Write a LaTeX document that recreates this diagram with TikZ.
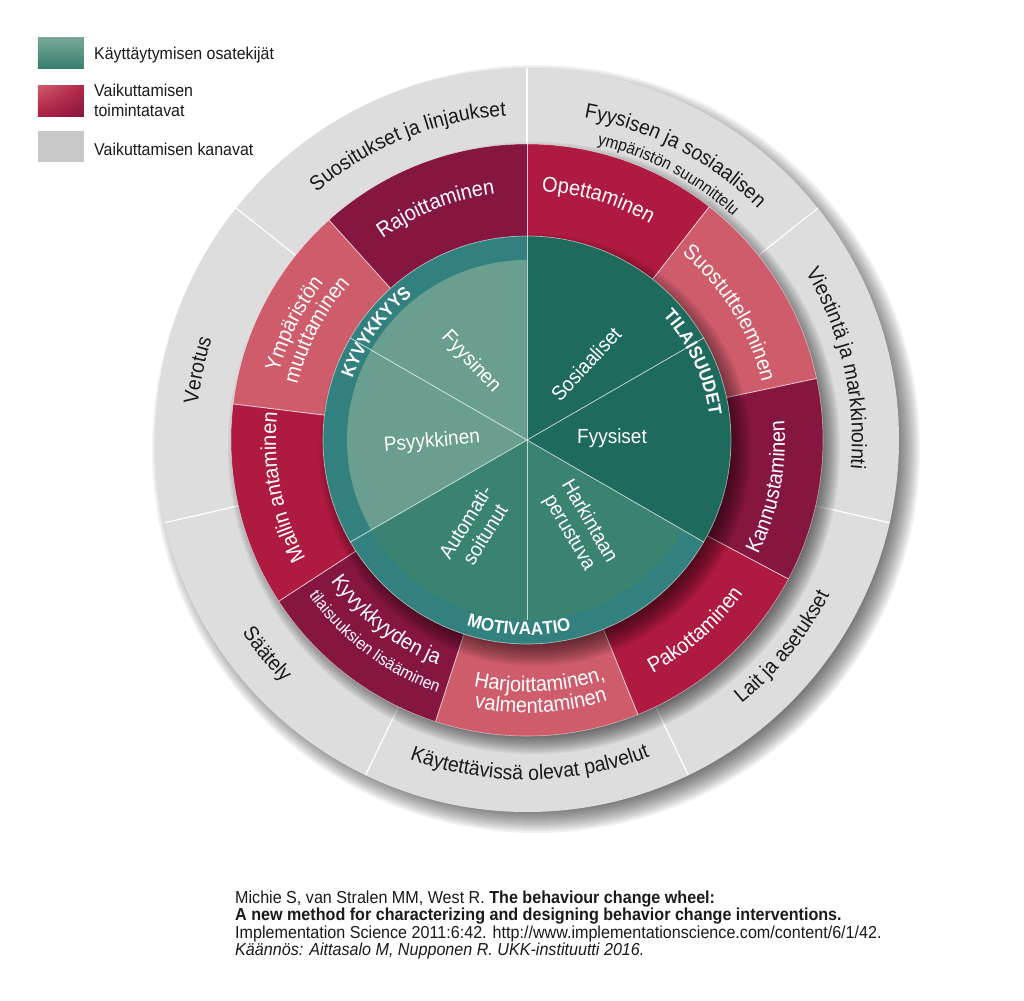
\documentclass[tikz,border=0pt]{standalone}
\usepackage{fontspec}
\setmainfont[FakeStretch=0.93]{Liberation Sans}
\usetikzlibrary{decorations.text,shadings}

\definecolor{ringgrey}{HTML}{DDDDDD}
\definecolor{crimsonr}{HTML}{AF1A40}
\definecolor{maroonr}{HTML}{85163F}
\definecolor{pinkr}{HTML}{CE5C6B}
\definecolor{lightg}{HTML}{6A9E8E}
\definecolor{midg}{HTML}{3B8371}
\definecolor{darkg}{HTML}{1E6A5C}
\definecolor{ringteal}{HTML}{32817E}
\definecolor{inkc}{HTML}{1A1A1A}

\newcommand\ringseg[5]{%
  \fill[#1] (#2:#4) arc[start angle=#2, end angle=#3, radius=#4] -- (#3:#5) arc[start angle=#3, end angle=#2, radius=#5] -- cycle;}
\newcommand\cwtext[5]{%
  \path[decorate, decoration={text along path, text align=center, text={|#4|#5}}]
    ({#1+#3}:#2) arc[start angle={#1+#3}, end angle={#1-#3}, radius=#2];}
\newcommand\ccwtext[5]{%
  \path[decorate, decoration={text along path, text align=center, text={|#4|#5}}]
    ({#1-#3}:#2) arc[start angle={#1-#3}, end angle={#1+#3}, radius=#2];}
\newcommand\softshadow[4]{%
  \foreach \k in {0,...,11}{\fill[black,opacity=0.055] (#1,#2) circle[radius={#3+#4-\k*#4/6}];}}

\newcommand\fgrey{\fontsize{21}{22}\selectfont\color{inkc}}
\newcommand\fgreys{\fontsize{16.8}{18}\selectfont\color{inkc}}
\newcommand\fred{\fontsize{21.5}{22}\selectfont\color{white}}
\newcommand\freds{\fontsize{16.8}{18}\selectfont\color{white}}
\newcommand\fring{\fontsize{18.3}{19}\selectfont\bfseries\color{white}}

\begin{document}
\begin{tikzpicture}[x=1bp,y=1bp,
  gtext/.style={text=white, font=\fontsize{20.5}{23}\selectfont, align=center, inner sep=0pt},
  legtext/.style={anchor=base west, font=\fontsize{17.2}{19}\selectfont, text=inkc, inner sep=0pt},
  citetext/.style={anchor=base west, font=\fontsize{17.4}{19}\selectfont, text=inkc, inner sep=0pt},
  greysep/.style={white, line width=1.2bp},
  redsep/.style={white, opacity=0.75, line width=0.8bp},
  greensep/.style={white, opacity=0.7, line width=0.8bp}]
\useasboundingbox (-527,-561) rectangle (497,440);
\fill[white] (-527,-561) rectangle (497,440);
\coordinate (c) at (0,0);

% legend
\shade[top color=lightg!90!white, bottom color=midg!80!darkg] (-489,402) rectangle (-443,371);
\shade[upper left=pinkr, upper right=crimsonr!85!pinkr, lower left=crimsonr, lower right=maroonr] (-489,354) rectangle (-443,323);
\fill[black!22] (-489,309) rectangle (-443,278);
\node[legtext] (l1) at (-433,380) {Käyttäytymisen osatekijät};
\node[legtext] (l2a) at (-433,343) {Vaikuttamisen};
\node[legtext] (l2b) at (-433,323) {toimintatavat};
\node[legtext] (l3) at (-433,284) {Vaikuttamisen kanavat};

% outer grey ring
\softshadow{9}{-9}{372}{12}
\fill[ringgrey] (c) circle[radius=372];
\foreach \a in {90,38.571,-12.857,-64.286,-115.714,-167.143,141.429}{\draw[greysep] (\a:296) -- (\a:372);}

% red ring
\softshadow{7}{-8}{296}{10}
\ringseg{crimsonr}{52}{90}{204}{296}
\ringseg{pinkr}{12}{52}{204}{296}
\ringseg{maroonr}{-28}{12}{204}{296}
\ringseg{crimsonr}{-68}{-28}{204}{296}
\ringseg{pinkr}{-108}{-68}{204}{296}
\ringseg{maroonr}{-147}{-108}{204}{296}
\ringseg{crimsonr}{-187}{-147}{204}{296}
\ringseg{pinkr}{-228}{-187}{204}{296}
\ringseg{maroonr}{-270}{-228}{204}{296}
\foreach \a in {90,52,12,-28,-68,-108,-147,-187,-228}{\draw[redsep] (\a:204) -- (\a:296);}
\draw[white, opacity=0.5, line width=0.6bp] (c) circle[radius=296];

% green circle
\softshadow{8}{-10}{204}{12}
\ringseg{ringteal}{90}{330}{0}{204}
\ringseg{darkg}{-30}{90}{0}{204}
\fill[lightg] (c) -- (90:180) arc[start angle=90, end angle=210, radius=180] -- cycle;
\fill[midg] (c) -- (210:180) arc[start angle=210, end angle=330, radius=180] -- cycle;
\fill[darkg] (c) -- (-30:180) arc[start angle=-30, end angle=90, radius=180] -- cycle;
\foreach \a in {30,90,150,210,330}{\draw[greensep] (c) -- (\a:204);}
\draw[greensep] (c) -- (270:180);
\draw[white, opacity=0.55, line width=0.7bp] (c) circle[radius=204];

% green texts
\node[gtext, rotate=-47] (fyysinen) at (-56,78) {Fyysinen};
\node[gtext, rotate=5] (psyykkinen) at (-95,-2) {Psyykkinen};
\node[gtext, rotate=58] (automati) at (-52,-88) {Automati-\\soitunut};
\node[gtext, rotate=-60] (harkintaan) at (52,-87) {Harkintaan\\perustuva};
\node[gtext] (fyysiset) at (85,2) {Fyysiset};
\node[gtext, rotate=47] (sosiaaliset) at (59,76) {Sosiaaliset};

% ring labels
\cwtext{144.5}{185}{35}{\fring}{KYVYKKYYS}
\cwtext{25}{184}{35}{\fring}{TILAISUUDET}
\ccwtext{-92.5}{195}{35}{\fring}{MOTIVAATIO}

% red ring texts
\cwtext{111.5}{248}{30}{\fred}{Rajoittaminen}
\cwtext{73.5}{249}{30}{\fred}{Opettaminen}
\cwtext{32}{242}{30}{\fred}{Suostutteleminen}
\ccwtext{-11}{258}{30}{\fred}{Kannustaminen}
\ccwtext{-48.5}{265}{30}{\fred}{Pakottaminen}
\ccwtext{-87}{252}{30}{\fred}{Harjoittaminen,}
\ccwtext{-87}{273}{30}{\fred}{valmentaminen}
\ccwtext{232}{242}{30}{\fred}{Kyvykkyyden ja}
\ccwtext{233}{268}{30}{\freds}{tilaisuuksien lisääminen}
\cwtext{191}{251}{30}{\fred}{Mallin antaminen}
\cwtext{153.5}{257}{30}{\fred}{Ympäristön}
\cwtext{152.5}{236}{30}{\fred}{muuttaminen}

% grey ring texts
\cwtext{112}{325}{28}{\fgrey}{Suositukset ja linjaukset}
\cwtext{62.5}{327}{28}{\fgrey}{Fyysisen ja sosiaalisen}
\cwtext{62}{304}{28}{\fgreys}{ympäristön suunnittelu}
\cwtext{13}{325}{28}{\fgrey}{Viestintä ja markkinointi}
\ccwtext{-39}{340}{28}{\fgrey}{Lait ja asetukset}
\ccwtext{-89.5}{340}{28}{\fgrey}{Käytettävissä olevat palvelut}
\ccwtext{219.5}{344}{25}{\fgrey}{Säätely}
\cwtext{168}{331}{25}{\fgrey}{Verotus}

% citation
\node[citetext] (c1) at (-292,-463) {Michie S, van Stralen MM, West R. \textbf{The behaviour change wheel:}};
\node[citetext] (c2) at (-292,-480.7) {\textbf{A new method for characterizing and designing behavior change interventions.}};
\node[citetext] (c3) at (-292,-498.3) {Implementation Science 2011:6:42. http://www.implementationscience.com/content/6/1/42.};
\node[citetext] (c4) at (-292,-515) {\textit{Käännös: Aittasalo M, Nupponen R. UKK-instituutti 2016.}};
\end{tikzpicture}
\end{document}
